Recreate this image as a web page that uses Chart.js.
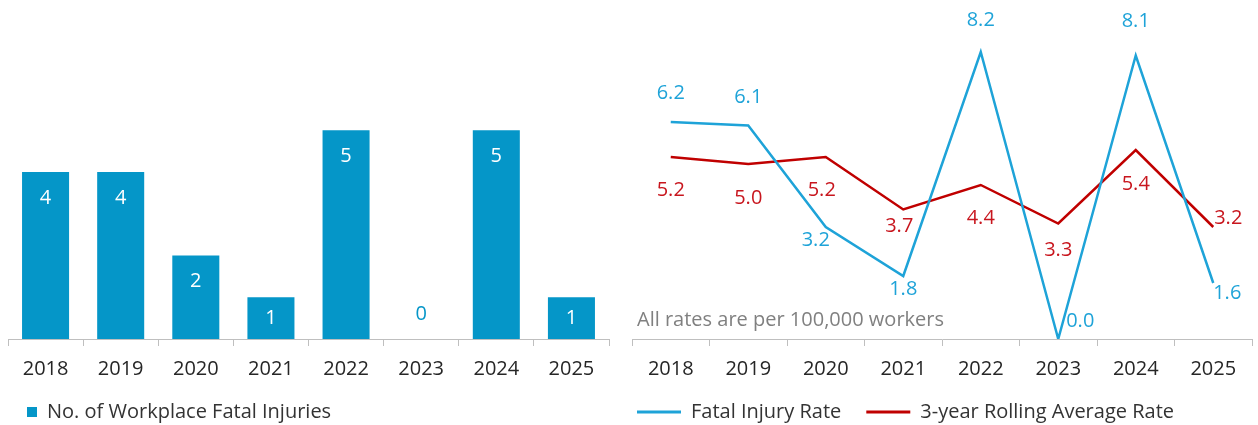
<!DOCTYPE html>
<html>
<head>
<meta charset="utf-8">
<script src="https://cdn.jsdelivr.net/npm/chart.js@4"></script>
<style>
  html, body { margin: 0; padding: 0; background: #fff; overflow: hidden; }
  .box { position: absolute; top: 0; height: 425px; }
  #left { left: 0; width: 620px; }
  #right { left: 600px; width: 658px; }
</style>
</head>
<body>
<div class="box" id="left"><canvas id="barChart"></canvas></div>
<div class="box" id="right"><canvas id="lineChart"></canvas></div>
<script>
const years = ['2018', '2019', '2020', '2021', '2022', '2023', '2024', '2025'];
const fatalInjuries = [4, 4, 2, 1, 5, 0, 5, 1];
const fatalRate = [6.2, 6.1, 3.2, 1.8, 8.2, 0.0, 8.1, 1.6];
const rollingRate = [5.2, 5.0, 5.2, 3.7, 4.4, 3.3, 5.4, 3.2];

const FONT = '"Open Sans"';
const FS = 20;
const BAR_COLOR = '#0596c8';
const BLUE = '#1ea3d8';
const RED = '#c00000';
const RED_TEXT = '#c8161e';
const AXIS = '#bfbfbf';
const TEXT = '#262626';

Chart.defaults.font.family = FONT;
Chart.defaults.font.size = FS;
Chart.defaults.color = TEXT;
Chart.defaults.animation = false;

// labels for the bars: inside the top end, or above the base when the value is 0
const barLabels = {
  id: 'barLabels',
  afterDatasetsDraw(chart) {
    const { ctx } = chart;
    const meta = chart.getDatasetMeta(0);
    ctx.save();
    ctx.font = FS + 'px ' + FONT;
    ctx.textAlign = 'center';
    ctx.textBaseline = 'middle';
    meta.data.forEach((bar, i) => {
      const v = fatalInjuries[i];
      let y;
      if (v === 0) {
        ctx.fillStyle = BAR_COLOR;
        y = bar.base - 25;
      } else {
        ctx.fillStyle = '#fff';
        y = Math.min(bar.y + 26, (bar.y + bar.base) / 2);
      }
      ctx.fillText(String(v), bar.x, y);
    });
    ctx.restore();
  }
};

// value labels next to the line points, each moved by a hand-set offset
const pointLabels = {
  id: 'pointLabels',
  afterDatasetsDraw(chart, args, opts) {
    const { ctx } = chart;
    ctx.save();
    ctx.font = FS + 'px ' + FONT;
    ctx.textAlign = 'center';
    ctx.textBaseline = 'middle';
    chart.data.datasets.forEach((ds, d) => {
      const meta = chart.getDatasetMeta(d);
      ctx.fillStyle = opts.colors[d];
      meta.data.forEach((pt, i) => {
        const [dx, dy] = opts.offsets[d][i];
        ctx.fillText(ds.data[i].toFixed(1), pt.x + dx, pt.y + dy);
      });
    });
    // note in the lower left of the plot
    ctx.fillStyle = '#808080';
    ctx.textAlign = 'left';
    ctx.fillText(opts.note, chart.chartArea.left + 5, chart.chartArea.bottom - 19);
    ctx.restore();
  }
};

const xGrid = {
  display: true,
  offset: true,
  drawOnChartArea: false,
  drawTicks: true,
  tickLength: 7,
  color: AXIS,
  lineWidth: 1
};

new Chart(document.getElementById('barChart'), {
  type: 'bar',
  data: {
    labels: years,
    datasets: [{
      label: 'No. of Workplace Fatal Injuries',
      data: fatalInjuries,
      backgroundColor: BAR_COLOR,
      borderWidth: 0,
      barPercentage: 0.626,
      categoryPercentage: 1
    }]
  },
  options: {
    responsive: true,
    maintainAspectRatio: false,
    layout: { padding: { left: 8, right: 11, top: 5, bottom: -7 } },
    scales: {
      x: {
        grid: xGrid,
        border: { display: true, color: AXIS, width: 1 },
        ticks: { padding: 11, maxRotation: 0, autoSkip: false, color: TEXT, font: { lineHeight: 1.2 } },
        afterFit(scale) { scale.height = 44; }
      },
      y: { display: false, min: 0, max: 8 }
    },
    plugins: {
      legend: {
        position: 'bottom',
        align: 'start',
        labels: { boxWidth: 10, boxHeight: 10, padding: 19, color: '#333' }
      },
      tooltip: { enabled: false }
    }
  },
  plugins: [barLabels]
});

new Chart(document.getElementById('lineChart'), {
  type: 'line',
  data: {
    labels: years,
    datasets: [
      {
        label: 'Fatal Injury Rate',
        data: fatalRate,
        borderColor: BLUE,
        backgroundColor: BLUE,
        borderWidth: 2.5,
        pointRadius: 0,
        tension: 0
      },
      {
        label: '3-year Rolling Average Rate',
        data: rollingRate,
        borderColor: RED,
        backgroundColor: RED,
        borderWidth: 2.5,
        pointRadius: 0,
        tension: 0
      }
    ]
  },
  options: {
    responsive: true,
    maintainAspectRatio: false,
    layout: { padding: { left: 12, right: 6, top: 6.5, bottom: -7 } },
    scales: {
      x: {
        offset: true,
        grid: xGrid,
        border: { display: true, color: AXIS, width: 1 },
        ticks: { padding: 11, maxRotation: 0, autoSkip: false, color: TEXT, font: { lineHeight: 1.2 } },
        afterFit(scale) { scale.height = 38; }
      },
      y: {
        min: 0,
        max: 9.5,
        ticks: { display: false },
        grid: { display: false },
        border: { display: false },
        afterFit(scale) { scale.width = 20; }
      }
    },
    plugins: {
      legend: {
        position: 'bottom',
        align: 'start',
        labels: {
          boxWidth: 44,
          boxHeight: 3,
          padding: 25,
          color: '#333',
          generateLabels(chart) {
            return Chart.defaults.plugins.legend.labels.generateLabels(chart)
              .map(item => ({ ...item, lineWidth: 0 }));
          }
        }
      },
      tooltip: { enabled: false },
      pointLabels: {
        colors: [BLUE, RED_TEXT],
        note: 'All rates are per 100,000 workers',
        offsets: [
          [[0, -29], [0, -28], [-10, 13], [0, 13], [0, -32], [22, -18], [0, -34], [14, 10]],
          [[0, 33], [0, 34], [-4, 33], [-4, 17], [0, 33], [0, 27], [0, 34], [15, -9]]
        ]
      }
    }
  },
  plugins: [pointLabels]
});
</script>
</body>
</html>
